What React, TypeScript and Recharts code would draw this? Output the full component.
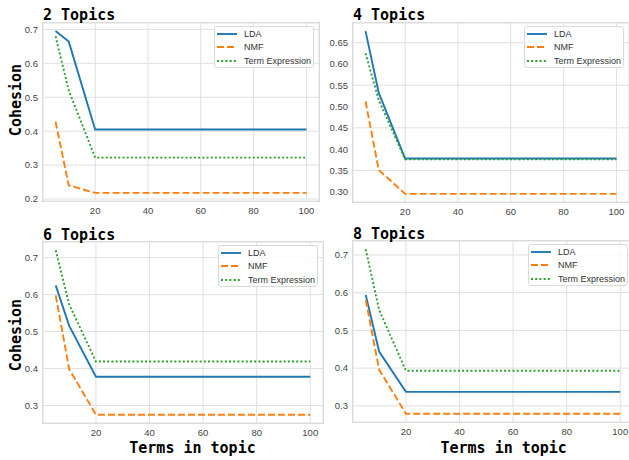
import { CartesianGrid, Line, LineChart, XAxis, YAxis } from 'recharts'

// number of terms kept per topic
const TERMS = [5, 10, 20, 50, 100]
const X_TICKS = [20, 40, 60, 80, 100]

const LDA_2 = [0.695, 0.664, 0.405, 0.405, 0.405]
const NMF_2 = [0.428, 0.24, 0.218, 0.218, 0.218]
const TERM_EXPR_2 = [0.68, 0.52, 0.322, 0.322, 0.322]

const LDA_4 = [0.677, 0.532, 0.378, 0.378, 0.378]
const NMF_4 = [0.512, 0.351, 0.295, 0.295, 0.295]
const TERM_EXPR_4 = [0.625, 0.515, 0.376, 0.376, 0.376]

const LDA_6 = [0.625, 0.516, 0.378, 0.378, 0.378]
const NMF_6 = [0.598, 0.399, 0.275, 0.275, 0.275]
const TERM_EXPR_6 = [0.72, 0.574, 0.419, 0.419, 0.419]

const LDA_8 = [0.594, 0.444, 0.337, 0.337, 0.337]
const NMF_8 = [0.581, 0.396, 0.279, 0.279, 0.279]
const TERM_EXPR_8 = [0.715, 0.554, 0.393, 0.393, 0.393]

const Y_TICKS_2 = [0.2, 0.3, 0.4, 0.5, 0.6, 0.7]
const Y_TICKS_4 = [0.3, 0.35, 0.4, 0.45, 0.5, 0.55, 0.6, 0.65]
const Y_TICKS_6 = [0.3, 0.4, 0.5, 0.6, 0.7]
const Y_TICKS_8 = [0.3, 0.4, 0.5, 0.6, 0.7]

const SERIES = [
  { key: 'LDA', color: '#1f77b4', dash: undefined as string | undefined },
  { key: 'NMF', color: '#ff7f0e', dash: '7 3' },
  { key: 'Term Expression', color: '#2ca02c', dash: '2 2.2' },
]

const TICK_FONT = { fontSize: 9.5, fill: '#444', fontFamily: '"Liberation Sans", Arial, sans-serif' }
const MONO = '"DejaVu Sans Mono", monospace'

type Box = { x: number; y: number; w: number; h: number }

// matplotlib-style 5% padding around the data range
function padded(values: number[]): [number, number] {
  const lo = Math.min(...values)
  const hi = Math.max(...values)
  const pad = (hi - lo) * 0.05
  return [lo - pad, hi + pad]
}

interface PanelProps {
  box: Box
  lda: number[]
  nmf: number[]
  termExpr: number[]
  yTicks: number[]
  decimals: number
}

function Panel({ box, lda, nmf, termExpr, yTicks, decimals }: PanelProps) {
  const rows = TERMS.map((t, i) => ({
    terms: t,
    LDA: lda[i],
    NMF: nmf[i],
    'Term Expression': termExpr[i],
  }))
  const xDomain = padded(TERMS)
  const yDomain = padded([...lda, ...nmf, ...termExpr])

  return (
    <>
      <div
        style={{
          position: 'absolute',
          left: box.x - 1,
          top: box.y - 1,
          width: box.w + 2,
          height: box.h + 2,
          border: '1.5px solid #d6d6d6',
          boxSizing: 'border-box',
        }}
      />
      <div style={{ position: 'absolute', left: box.x - 45, top: box.y - 10 }}>
        <LineChart
          width={box.w + 60}
          height={box.h + 40}
          data={rows}
          margin={{ top: 10, right: 15, bottom: 0, left: 0 }}
        >
          <CartesianGrid stroke="#e0e0e0" strokeWidth={1} />
          <XAxis
            dataKey="terms"
            type="number"
            domain={xDomain}
            ticks={X_TICKS}
            axisLine={false}
            tickLine={false}
            tickSize={0}
            tickMargin={6}
            height={30}
            tick={TICK_FONT}
            allowDataOverflow
          />
          <YAxis
            type="number"
            domain={yDomain}
            ticks={yTicks}
            width={45}
            axisLine={false}
            tickLine={false}
            tickSize={0}
            tickMargin={5}
            tick={TICK_FONT}
            tickFormatter={(v: number) => v.toFixed(decimals)}
            allowDataOverflow
          />
          {SERIES.map((s) => (
            <Line
              key={s.key}
              dataKey={s.key}
              type="linear"
              stroke={s.color}
              strokeWidth={1.9}
              strokeDasharray={s.dash}
              dot={false}
              activeDot={false}
              isAnimationActive={false}
            />
          ))}
        </LineChart>
      </div>
      <div
        style={{
          position: 'absolute',
          left: box.x + box.w - 105,
          top: box.y + 3,
          width: 100,
          height: 42,
          boxSizing: 'border-box',
          border: '1px solid #dadada',
          borderRadius: 3,
          background: 'rgba(255,255,255,0.85)',
          paddingTop: 0.5,
          paddingLeft: 2,
        }}
      >
        {SERIES.map((s) => (
          <div key={s.key} style={{ display: 'flex', alignItems: 'center', height: 13.3 }}>
            <svg width={20} height={4} style={{ marginRight: 7 }}>
              <line
                x1={0}
                y1={2}
                x2={20}
                y2={2}
                stroke={s.color}
                strokeWidth={1.9}
                strokeDasharray={s.dash}
              />
            </svg>
            <span
              style={{
                fontSize: 9,
                color: '#333',
                fontFamily: '"Liberation Sans", Arial, sans-serif',
                whiteSpace: 'nowrap',
              }}
            >
              {s.key}
            </span>
          </div>
        ))}
      </div>
    </>
  )
}

const BOX_2: Box = { x: 43, y: 23, w: 276, h: 178 }
const BOX_4: Box = { x: 353, y: 23, w: 276, h: 179 }
const BOX_6: Box = { x: 43, y: 242, w: 280, h: 181 }
const BOX_8: Box = { x: 353, y: 241, w: 280, h: 181 }

export default function App() {
  const titleStyle = { fontFamily: MONO, fontWeight: 'bold', fontSize: 15, fill: '#000' }
  return (
    <div
      style={{
        position: 'absolute',
        left: 0,
        top: 0,
        width: 629,
        height: 460,
        overflow: 'hidden',
        background: '#fff',
      }}
    >
      <Panel box={BOX_2} lda={LDA_2} nmf={NMF_2} termExpr={TERM_EXPR_2} yTicks={Y_TICKS_2} decimals={1} />
      <Panel box={BOX_4} lda={LDA_4} nmf={NMF_4} termExpr={TERM_EXPR_4} yTicks={Y_TICKS_4} decimals={2} />
      <Panel box={BOX_6} lda={LDA_6} nmf={NMF_6} termExpr={TERM_EXPR_6} yTicks={Y_TICKS_6} decimals={1} />
      <Panel box={BOX_8} lda={LDA_8} nmf={NMF_8} termExpr={TERM_EXPR_8} yTicks={Y_TICKS_8} decimals={1} />
      <svg
        width={629}
        height={460}
        style={{ position: 'absolute', left: 0, top: 0, pointerEvents: 'none' }}
      >
        <text x={BOX_2.x} y={BOX_2.y - 3} style={titleStyle}>2 Topics</text>
        <text x={BOX_4.x} y={BOX_4.y - 3} style={titleStyle}>4 Topics</text>
        <text x={BOX_6.x} y={BOX_6.y - 2} style={titleStyle}>6 Topics</text>
        <text x={BOX_8.x} y={BOX_8.y - 2} style={titleStyle}>8 Topics</text>
        <text x={20.5} y={100} textAnchor="middle" transform="rotate(-90 20.5 100)" style={titleStyle}>
          Cohesion
        </text>
        <text x={20.5} y={335} textAnchor="middle" transform="rotate(-90 20.5 335)" style={titleStyle}>
          Cohesion
        </text>
        <text x={192.5} y={452.5} textAnchor="middle" style={titleStyle}>Terms in topic</text>
        <text x={503.7} y={452.5} textAnchor="middle" style={titleStyle}>Terms in topic</text>
      </svg>
    </div>
  )
}
